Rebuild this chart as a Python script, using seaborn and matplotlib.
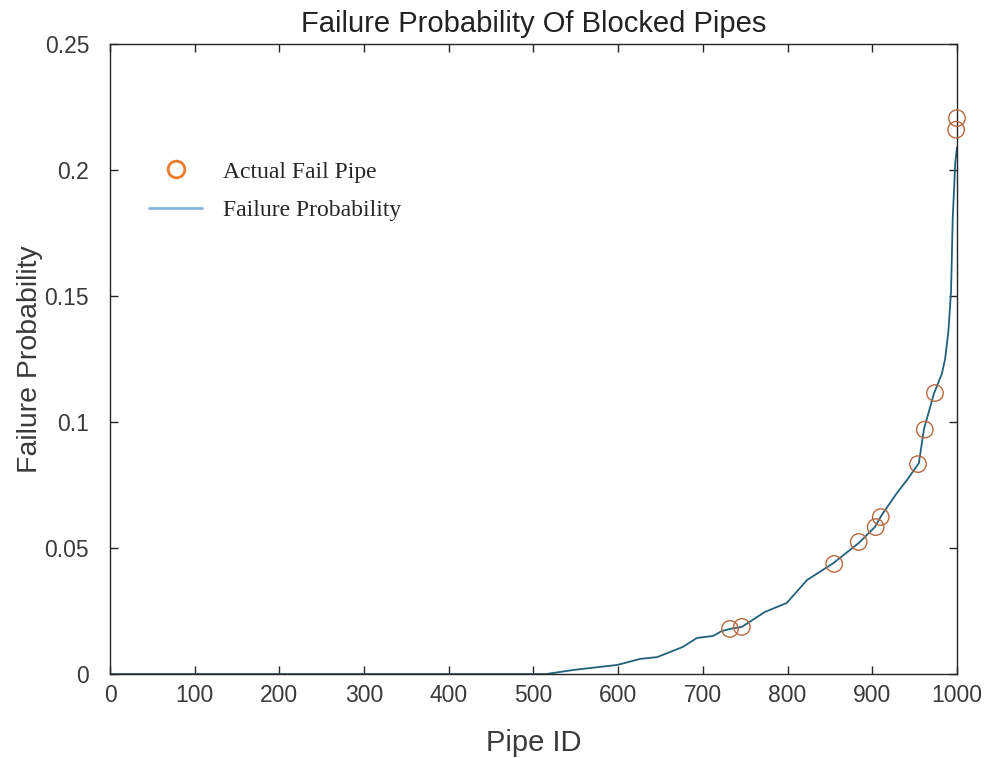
import numpy as np
import pandas as pd
import seaborn as sns
import matplotlib
matplotlib.use("Agg")
import matplotlib.pyplot as plt
from matplotlib.lines import Line2D

# Sorted failure probability of every pipe (read at the break points of the curve)
curve_pipe_id = [1, 515, 547, 578, 599, 626, 646, 676, 693, 712, 722, 732, 746,
                 773, 799, 823, 854, 884, 903, 911, 929, 941, 955, 961, 973,
                 982, 986, 990, 993, 995, 998, 1000]
curve_prob = [0.0, 0.0, 0.0016, 0.0028, 0.0036, 0.0060, 0.0067, 0.0107, 0.0143,
              0.0151, 0.0170, 0.0179, 0.0187, 0.0246, 0.0282, 0.0373, 0.0440,
              0.0520, 0.0583, 0.0630, 0.0718, 0.0770, 0.0837, 0.0972, 0.1115,
              0.1190, 0.1250, 0.1365, 0.1520, 0.1810, 0.2030, 0.2090]

# Pipes that actually failed
fail_pipe_id = [732, 746, 855, 884, 904, 910, 954, 962, 974, 999, 1000]
fail_prob = [0.0179, 0.0187, 0.0437, 0.0524, 0.0583, 0.0623, 0.0833, 0.0970,
             0.1115, 0.2160, 0.2206]

x_ticks = [0, 100, 200, 300, 400, 500, 600, 700, 800, 900, 1000]
y_ticks = [0, 0.05, 0.1, 0.15, 0.2, 0.25]
y_tick_labels = ["0", "0.05", "0.1", "0.15", "0.2", "0.25"]

curve = pd.DataFrame({"Pipe ID": curve_pipe_id, "Failure Probability": curve_prob})
fails = pd.DataFrame({"Pipe ID": fail_pipe_id, "Failure Probability": fail_prob})

sns.set_theme(style="white")
plt.rcParams["font.family"] = ["Liberation Sans", "DejaVu Sans"]

fig = plt.figure(figsize=(9.92, 7.58), dpi=100)
ax = fig.add_axes([0.1109, 0.1108, 0.8538, 0.8311])

line_color = "#22617c"
circle_color = "#b8683e"

sns.lineplot(data=curve, x="Pipe ID", y="Failure Probability", ax=ax,
             color=line_color, linewidth=1.3, legend=False)
sns.scatterplot(data=fails, x="Pipe ID", y="Failure Probability", ax=ax,
                marker="o", s=140, facecolors="none", edgecolors=circle_color,
                linewidths=1.0, legend=False, zorder=3, clip_on=False)

ax.set_xlim(0, 1000)
ax.set_ylim(0, 0.25)
ax.set_xticks(x_ticks)
ax.set_yticks(y_ticks)
ax.set_yticklabels(y_tick_labels)

text_gray = "#3a3a3a"
ax.tick_params(direction="in", length=6, width=1.0, colors="#262626",
               labelcolor=text_gray, labelsize=16.5, top=True, right=True,
               bottom=True, left=True)
ax.tick_params(axis="x", pad=7)
ax.tick_params(axis="y", pad=15)
for s in ax.spines.values():
    s.set_color("#262626")
    s.set_linewidth(1.0)

ax.set_xlabel("Pipe ID", fontsize=21, color=text_gray, labelpad=16)
ax.set_ylabel("Failure Probability", fontsize=20.5, color=text_gray, labelpad=1)
ax.set_title("Failure Probability Of Blocked Pipes", fontsize=21,
             color="#222222", pad=9)

handles = [
    Line2D([], [], marker="o", linestyle="none", markerfacecolor="none",
           markeredgecolor="#ee7a2c", markeredgewidth=2.0, markersize=12),
    Line2D([], [], color="#8ab4e2", linewidth=2.0),
]
ax.legend(handles=handles, labels=["Actual Fail Pipe", "Failure Probability"],
          loc="upper left", bbox_to_anchor=(0.021, 0.848), frameon=False,
          prop={"family": "Liberation Serif", "size": 17},
          handlelength=2.25, handletextpad=0.9, labelspacing=0.72)

fig.savefig("out.png", dpi=100, facecolor="white")
